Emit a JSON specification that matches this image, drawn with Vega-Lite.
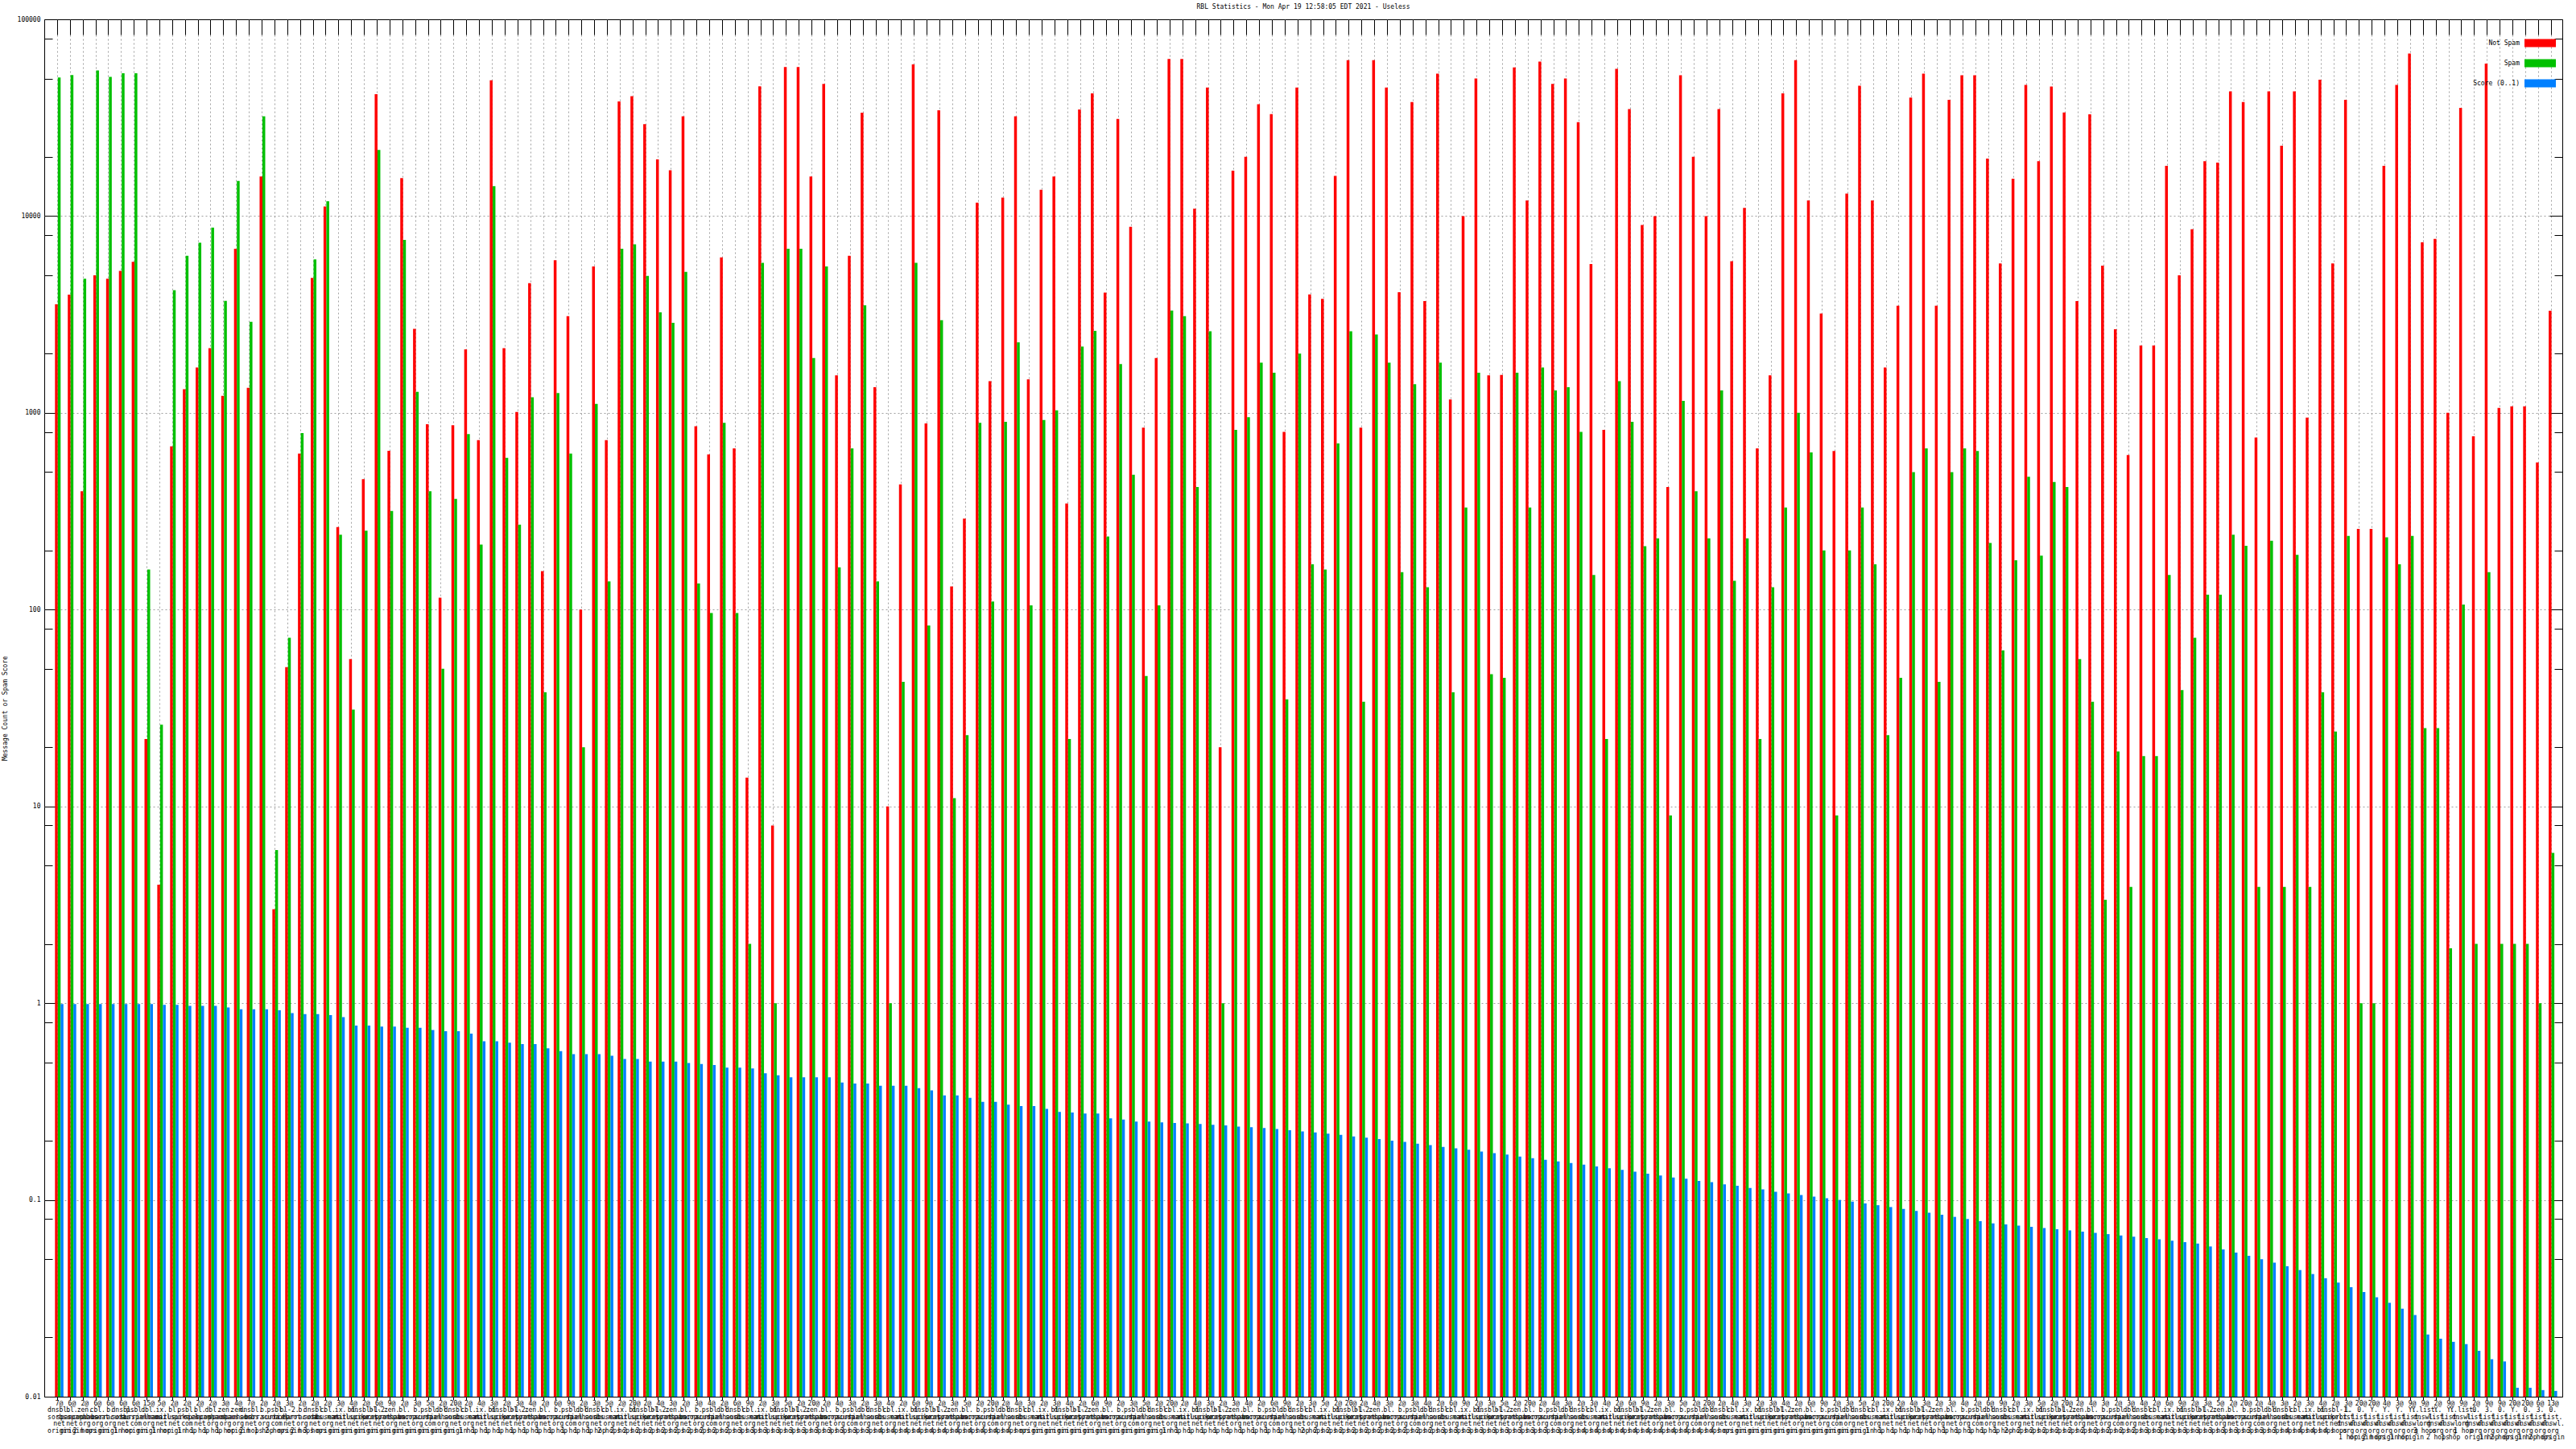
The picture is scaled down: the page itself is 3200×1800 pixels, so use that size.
{
"$schema": "https://vega.github.io/schema/vega-lite/v6.json",
"width": 3128, "height": 1711,
"autosize": "none",
"padding": {"left": 55, "top": 24, "right": 17, "bottom": 65},
"background": "white",
"config": {"view": {"stroke": "black", "strokeWidth": 1}, "font": "DejaVu Sans Mono"},
"title": {"text": "RBL Statistics - Mon Apr 19 12:58:05 EDT 2021 - Useless", "fontSize": 8, "fontWeight": "normal", "font": "DejaVu Sans Mono", "anchor": "middle", "offset": 7, "color": "black"},
"data": {"values": [
{"k":"001|7@|dnsbl.|sorbs.|net|origin","notspam":3565,"spam":50600,"score":0.99},
{"k":"002|6@|bl.|spamcop.|net|origin","notspam":3990,"spam":52100,"score":0.99},
{"k":"003|2@|zen.|spamhaus.|org|2 hops","notspam":400,"spam":4800,"score":0.99},
{"k":"004|6@|cbl.|abuseat.|org|origin","notspam":5000,"spam":55000,"score":0.99},
{"k":"005|6@|b.|barracuda.|org|origin","notspam":4800,"spam":51000,"score":0.99},
{"k":"006|6@|dnsbl.|sorbs.|net|1 hop","notspam":5270,"spam":53200,"score":0.99},
{"k":"007|6@|psbl.|surriel.|com|origin","notspam":5850,"spam":53200,"score":0.99},
{"k":"008|15@|dbl.|spamhaus.|org|origin","notspam":22,"spam":160,"score":0.99},
{"k":"009|5@|ix.|manitu.|net|1 hop","notspam":4,"spam":26,"score":0.98},
{"k":"010|2@|bl.|mailspike.|net|origin","notspam":676,"spam":4200,"score":0.98},
{"k":"011|2@|psbl.|surriel.|com|1 hop","notspam":1320,"spam":6280,"score":0.97},
{"k":"012|2@|bl.|spamcop.|net|1 hop","notspam":1700,"spam":7330,"score":0.97},
{"k":"013|2@|dbl.|spamhaus.|org|1 hop","notspam":2130,"spam":8740,"score":0.97},
{"k":"014|3@|zen.|spamhaus.|org|1 hop","notspam":1220,"spam":3710,"score":0.95},
{"k":"015|4@|zen.|spamhaus.|org|origin","notspam":6820,"spam":15100,"score":0.93},
{"k":"016|7@|dnsbl.|sorbs.|net|2 hops","notspam":1340,"spam":2900,"score":0.93},
{"k":"017|2@|b.|barracuda.|org|1 hop","notspam":15900,"spam":32100,"score":0.93},
{"k":"018|2@|psbl.|surriel.|com|2 hops","notspam":3,"spam":6,"score":0.92},
{"k":"019|3@|bl-2.|uceprot.|net|origin","notspam":51,"spam":72,"score":0.89},
{"k":"020|2@|b.|barracuda.|org|2 hops","notspam":620,"spam":790,"score":0.88},
{"k":"021|2@|dnsbl.|sorbs.|net|3 hops","notspam":4850,"spam":6030,"score":0.88},
{"k":"022|2@|cbl.|abuseat.|org|origin","notspam":11200,"spam":11900,"score":0.87},
{"k":"023|3@|ix.|manitu.|net|origin","notspam":263,"spam":240,"score":0.85},
{"k":"024|4@|bl.|mailspike.|net|origin","notspam":56,"spam":31,"score":0.77},
{"k":"025|2@|dnsbl-1.|uceprot.|net|origin","notspam":460,"spam":252,"score":0.77},
{"k":"026|6@|bl-2.|uceprot.|net|origin","notspam":41600,"spam":21700,"score":0.76},
{"k":"027|9@|zen.|spamhaus.|org|origin","notspam":641,"spam":317,"score":0.76},
{"k":"028|2@|bl.|spamcop.|net|origin","notspam":15600,"spam":7570,"score":0.75},
{"k":"029|3@|b.|barracuda.|org|origin","notspam":2670,"spam":1280,"score":0.75},
{"k":"030|5@|psbl.|surriel.|com|origin","notspam":875,"spam":400,"score":0.73},
{"k":"031|2@|dbl.|spamhaus.|org|origin","notspam":115,"spam":50,"score":0.72},
{"k":"032|20@|dnsbl.|sorbs.|net|origin","notspam":865,"spam":365,"score":0.72},
{"k":"033|2@|cbl.|abuseat.|org|1 hop","notspam":2100,"spam":780,"score":0.70},
{"k":"034|4@|ix.|manitu.|net|1 hop","notspam":727,"spam":214,"score":0.64},
{"k":"035|3@|bl.|mailspike.|net|1 hop","notspam":49000,"spam":14200,"score":0.64},
{"k":"036|2@|dnsbl-1.|uceprot.|net|1 hop","notspam":2130,"spam":590,"score":0.63},
{"k":"037|3@|bl-2.|uceprot.|net|1 hop","notspam":1010,"spam":270,"score":0.62},
{"k":"038|4@|zen.|spamhaus.|org|1 hop","notspam":4560,"spam":1200,"score":0.62},
{"k":"039|2@|bl.|spamcop.|net|1 hop","notspam":157,"spam":38,"score":0.59},
{"k":"040|6@|b.|barracuda.|org|1 hop","notspam":5970,"spam":1260,"score":0.57},
{"k":"041|9@|psbl.|surriel.|com|1 hop","notspam":3100,"spam":620,"score":0.55},
{"k":"042|2@|dbl.|spamhaus.|org|1 hop","notspam":100,"spam":20,"score":0.55},
{"k":"043|3@|dnsbl.|sorbs.|net|1 hop","notspam":5540,"spam":1110,"score":0.55},
{"k":"044|5@|cbl.|abuseat.|org|2 hops","notspam":727,"spam":139,"score":0.54},
{"k":"045|2@|ix.|manitu.|net|2 hops","notspam":38300,"spam":6830,"score":0.52},
{"k":"046|20@|bl.|mailspike.|net|2 hops","notspam":40700,"spam":7180,"score":0.52},
{"k":"047|2@|dnsbl-1.|uceprot.|net|2 hops","notspam":29300,"spam":4960,"score":0.505},
{"k":"048|4@|bl-2.|uceprot.|net|2 hops","notspam":19400,"spam":3240,"score":0.505},
{"k":"049|3@|zen.|spamhaus.|org|2 hops","notspam":17100,"spam":2870,"score":0.505},
{"k":"050|2@|bl.|spamcop.|net|2 hops","notspam":32100,"spam":5210,"score":0.496},
{"k":"051|3@|b.|barracuda.|org|2 hops","notspam":854,"spam":136,"score":0.49},
{"k":"052|4@|psbl.|surriel.|com|2 hops","notspam":615,"spam":96,"score":0.485},
{"k":"053|2@|dbl.|spamhaus.|org|2 hops","notspam":6160,"spam":890,"score":0.47},
{"k":"054|6@|dnsbl.|sorbs.|net|2 hops","notspam":660,"spam":96,"score":0.47},
{"k":"055|9@|cbl.|abuseat.|org|3 hops","notspam":14,"spam":2,"score":0.466},
{"k":"056|2@|ix.|manitu.|net|3 hops","notspam":45700,"spam":5780,"score":0.44},
{"k":"057|3@|bl.|mailspike.|net|3 hops","notspam":8,"spam":1,"score":0.43},
{"k":"058|5@|dnsbl-1.|uceprot.|net|3 hops","notspam":57200,"spam":6820,"score":0.42},
{"k":"059|2@|bl-2.|uceprot.|net|3 hops","notspam":57200,"spam":6820,"score":0.42},
{"k":"060|20@|zen.|spamhaus.|org|3 hops","notspam":15900,"spam":1900,"score":0.42},
{"k":"061|2@|bl.|spamcop.|net|3 hops","notspam":47000,"spam":5540,"score":0.42},
{"k":"062|4@|b.|barracuda.|org|3 hops","notspam":1550,"spam":164,"score":0.395},
{"k":"063|3@|psbl.|surriel.|com|3 hops","notspam":6280,"spam":660,"score":0.39},
{"k":"064|2@|dbl.|spamhaus.|org|3 hops","notspam":33500,"spam":3520,"score":0.39},
{"k":"065|3@|dnsbl.|sorbs.|net|3 hops","notspam":1350,"spam":139,"score":0.38},
{"k":"066|4@|cbl.|abuseat.|org|4 hops","notspam":10,"spam":1,"score":0.38},
{"k":"067|2@|ix.|manitu.|net|4 hops","notspam":433,"spam":43,"score":0.38},
{"k":"068|6@|bl.|mailspike.|net|4 hops","notspam":59000,"spam":5780,"score":0.37},
{"k":"069|9@|dnsbl-1.|uceprot.|net|4 hops","notspam":883,"spam":83,"score":0.36},
{"k":"070|2@|bl-2.|uceprot.|net|4 hops","notspam":34500,"spam":2960,"score":0.34},
{"k":"071|3@|zen.|spamhaus.|org|4 hops","notspam":131,"spam":11,"score":0.34},
{"k":"072|5@|bl.|spamcop.|net|4 hops","notspam":290,"spam":23,"score":0.33},
{"k":"073|2@|b.|barracuda.|org|4 hops","notspam":11700,"spam":890,"score":0.315},
{"k":"074|20@|psbl.|surriel.|com|4 hops","notspam":1450,"spam":110,"score":0.315},
{"k":"075|2@|dbl.|spamhaus.|org|4 hops","notspam":12400,"spam":900,"score":0.305},
{"k":"076|4@|dnsbl.|sorbs.|net|4 hops","notspam":32100,"spam":2280,"score":0.30},
{"k":"077|3@|cbl.|abuseat.|org|origin","notspam":1480,"spam":105,"score":0.30},
{"k":"078|2@|ix.|manitu.|net|origin","notspam":13600,"spam":920,"score":0.29},
{"k":"079|3@|bl.|mailspike.|net|origin","notspam":15900,"spam":1030,"score":0.28},
{"k":"080|4@|dnsbl-1.|uceprot.|net|origin","notspam":346,"spam":22,"score":0.278},
{"k":"081|2@|bl-2.|uceprot.|net|origin","notspam":34800,"spam":2170,"score":0.275},
{"k":"082|6@|zen.|spamhaus.|org|origin","notspam":42000,"spam":2610,"score":0.275},
{"k":"083|9@|bl.|spamcop.|net|origin","notspam":4080,"spam":235,"score":0.26},
{"k":"084|2@|b.|barracuda.|org|origin","notspam":31200,"spam":1770,"score":0.256},
{"k":"085|3@|psbl.|surriel.|com|origin","notspam":8830,"spam":485,"score":0.25},
{"k":"086|5@|dbl.|spamhaus.|org|origin","notspam":840,"spam":46,"score":0.25},
{"k":"087|2@|dnsbl.|sorbs.|net|origin","notspam":1900,"spam":105,"score":0.248},
{"k":"088|20@|cbl.|abuseat.|org|1 hop","notspam":62900,"spam":3310,"score":0.246},
{"k":"089|2@|ix.|manitu.|net|1 hop","notspam":62900,"spam":3100,"score":0.245},
{"k":"090|4@|bl.|mailspike.|net|1 hop","notspam":10900,"spam":420,"score":0.243},
{"k":"091|3@|dnsbl-1.|uceprot.|net|1 hop","notspam":45000,"spam":2600,"score":0.241},
{"k":"092|2@|bl-2.|uceprot.|net|1 hop","notspam":20,"spam":1,"score":0.239},
{"k":"093|3@|zen.|spamhaus.|org|1 hop","notspam":17000,"spam":820,"score":0.236},
{"k":"094|4@|bl.|spamcop.|net|1 hop","notspam":20000,"spam":950,"score":0.234},
{"k":"095|2@|b.|barracuda.|org|1 hop","notspam":37000,"spam":1800,"score":0.232},
{"k":"096|6@|psbl.|surriel.|com|1 hop","notspam":33000,"spam":1600,"score":0.229},
{"k":"097|9@|dbl.|spamhaus.|org|1 hop","notspam":800,"spam":35,"score":0.226},
{"k":"098|2@|dnsbl.|sorbs.|net|1 hop","notspam":45000,"spam":2000,"score":0.223},
{"k":"099|3@|cbl.|abuseat.|org|2 hops","notspam":4000,"spam":170,"score":0.22},
{"k":"100|5@|ix.|manitu.|net|2 hops","notspam":3800,"spam":160,"score":0.217},
{"k":"101|2@|bl.|mailspike.|net|2 hops","notspam":16000,"spam":700,"score":0.214},
{"k":"102|20@|dnsbl-1.|uceprot.|net|2 hops","notspam":62000,"spam":2600,"score":0.21},
{"k":"103|2@|bl-2.|uceprot.|net|2 hops","notspam":840,"spam":34,"score":0.207},
{"k":"104|4@|zen.|spamhaus.|org|2 hops","notspam":62000,"spam":2500,"score":0.204},
{"k":"105|3@|bl.|spamcop.|net|2 hops","notspam":45000,"spam":1800,"score":0.2},
{"k":"106|2@|b.|barracuda.|org|2 hops","notspam":4100,"spam":155,"score":0.197},
{"k":"107|3@|psbl.|surriel.|com|2 hops","notspam":38000,"spam":1400,"score":0.193},
{"k":"108|4@|dbl.|spamhaus.|org|2 hops","notspam":3700,"spam":130,"score":0.19},
{"k":"109|2@|dnsbl.|sorbs.|net|2 hops","notspam":53000,"spam":1800,"score":0.186},
{"k":"110|6@|cbl.|abuseat.|org|3 hops","notspam":1170,"spam":38,"score":0.183},
{"k":"111|9@|ix.|manitu.|net|3 hops","notspam":10000,"spam":330,"score":0.18},
{"k":"112|2@|bl.|mailspike.|net|3 hops","notspam":50000,"spam":1600,"score":0.176},
{"k":"113|3@|dnsbl-1.|uceprot.|net|3 hops","notspam":1550,"spam":47,"score":0.173},
{"k":"114|5@|bl-2.|uceprot.|net|3 hops","notspam":1560,"spam":45,"score":0.17},
{"k":"115|2@|zen.|spamhaus.|org|3 hops","notspam":57000,"spam":1600,"score":0.166},
{"k":"116|20@|bl.|spamcop.|net|3 hops","notspam":12000,"spam":330,"score":0.163},
{"k":"117|2@|b.|barracuda.|org|3 hops","notspam":61000,"spam":1700,"score":0.16},
{"k":"118|4@|psbl.|surriel.|com|3 hops","notspam":47000,"spam":1300,"score":0.157},
{"k":"119|3@|dbl.|spamhaus.|org|3 hops","notspam":50000,"spam":1350,"score":0.154},
{"k":"120|2@|dnsbl.|sorbs.|net|3 hops","notspam":30000,"spam":800,"score":0.151},
{"k":"121|3@|cbl.|abuseat.|org|4 hops","notspam":5700,"spam":150,"score":0.148},
{"k":"122|4@|ix.|manitu.|net|4 hops","notspam":820,"spam":22,"score":0.145},
{"k":"123|2@|bl.|mailspike.|net|4 hops","notspam":56000,"spam":1450,"score":0.142},
{"k":"124|6@|dnsbl-1.|uceprot.|net|4 hops","notspam":35000,"spam":900,"score":0.139},
{"k":"125|9@|bl-2.|uceprot.|net|4 hops","notspam":9000,"spam":210,"score":0.136},
{"k":"126|2@|zen.|spamhaus.|org|4 hops","notspam":10000,"spam":230,"score":0.133},
{"k":"127|3@|bl.|spamcop.|net|4 hops","notspam":420,"spam":9,"score":0.13},
{"k":"128|5@|b.|barracuda.|org|4 hops","notspam":52000,"spam":1150,"score":0.128},
{"k":"129|2@|psbl.|surriel.|com|4 hops","notspam":20000,"spam":400,"score":0.125},
{"k":"130|20@|dbl.|spamhaus.|org|4 hops","notspam":10000,"spam":230,"score":0.123},
{"k":"131|2@|dnsbl.|sorbs.|net|4 hops","notspam":35000,"spam":1300,"score":0.12},
{"k":"132|4@|cbl.|abuseat.|org|origin","notspam":5900,"spam":140,"score":0.118},
{"k":"133|3@|ix.|manitu.|net|origin","notspam":11000,"spam":230,"score":0.115},
{"k":"134|2@|bl.|mailspike.|net|origin","notspam":660,"spam":22,"score":0.113},
{"k":"135|3@|dnsbl-1.|uceprot.|net|origin","notspam":1550,"spam":130,"score":0.11},
{"k":"136|4@|bl-2.|uceprot.|net|origin","notspam":42000,"spam":330,"score":0.108},
{"k":"137|2@|zen.|spamhaus.|org|origin","notspam":62000,"spam":1000,"score":0.106},
{"k":"138|6@|bl.|spamcop.|net|origin","notspam":12000,"spam":630,"score":0.104},
{"k":"139|9@|b.|barracuda.|org|origin","notspam":3200,"spam":200,"score":0.102},
{"k":"140|2@|psbl.|surriel.|com|origin","notspam":640,"spam":9,"score":0.1},
{"k":"141|3@|dbl.|spamhaus.|org|origin","notspam":13000,"spam":200,"score":0.098},
{"k":"142|5@|dnsbl.|sorbs.|net|origin","notspam":46000,"spam":330,"score":0.096},
{"k":"143|2@|cbl.|abuseat.|org|1 hop","notspam":12000,"spam":170,"score":0.094},
{"k":"144|20@|ix.|manitu.|net|1 hop","notspam":1700,"spam":23,"score":0.092},
{"k":"145|2@|bl.|mailspike.|net|1 hop","notspam":3500,"spam":45,"score":0.09},
{"k":"146|4@|dnsbl-1.|uceprot.|net|1 hop","notspam":40000,"spam":500,"score":0.088},
{"k":"147|3@|bl-2.|uceprot.|net|1 hop","notspam":53000,"spam":660,"score":0.086},
{"k":"148|2@|zen.|spamhaus.|org|1 hop","notspam":3500,"spam":43,"score":0.084},
{"k":"149|3@|bl.|spamcop.|net|1 hop","notspam":39000,"spam":500,"score":0.082},
{"k":"150|4@|b.|barracuda.|org|1 hop","notspam":52000,"spam":660,"score":0.08},
{"k":"151|2@|psbl.|surriel.|com|1 hop","notspam":52000,"spam":640,"score":0.078},
{"k":"152|6@|dbl.|spamhaus.|org|1 hop","notspam":19600,"spam":218,"score":0.076},
{"k":"153|9@|dnsbl.|sorbs.|net|1 hop","notspam":5740,"spam":62,"score":0.075},
{"k":"154|2@|cbl.|abuseat.|org|2 hops","notspam":15500,"spam":178,"score":0.074},
{"k":"155|3@|ix.|manitu.|net|2 hops","notspam":46400,"spam":473,"score":0.073},
{"k":"156|5@|bl.|mailspike.|net|2 hops","notspam":19000,"spam":188,"score":0.072},
{"k":"157|2@|dnsbl-1.|uceprot.|net|2 hops","notspam":45500,"spam":445,"score":0.071},
{"k":"158|20@|bl-2.|uceprot.|net|2 hops","notspam":33600,"spam":420,"score":0.07},
{"k":"159|2@|zen.|spamhaus.|org|2 hops","notspam":3700,"spam":56,"score":0.069},
{"k":"160|4@|bl.|spamcop.|net|2 hops","notspam":32900,"spam":34,"score":0.068},
{"k":"161|3@|b.|barracuda.|org|2 hops","notspam":5600,"spam":3.35,"score":0.067},
{"k":"162|2@|psbl.|surriel.|com|2 hops","notspam":2660,"spam":19,"score":0.066},
{"k":"163|3@|dbl.|spamhaus.|org|2 hops","notspam":610,"spam":3.9,"score":0.065},
{"k":"164|4@|dnsbl.|sorbs.|net|2 hops","notspam":2200,"spam":18,"score":0.064},
{"k":"165|2@|cbl.|abuseat.|org|3 hops","notspam":2200,"spam":18,"score":0.063},
{"k":"166|6@|ix.|manitu.|net|3 hops","notspam":18000,"spam":150,"score":0.062},
{"k":"167|9@|bl.|mailspike.|net|3 hops","notspam":5000,"spam":39,"score":0.061},
{"k":"168|2@|dnsbl-1.|uceprot.|net|3 hops","notspam":8570,"spam":72,"score":0.06},
{"k":"169|3@|bl-2.|uceprot.|net|3 hops","notspam":19000,"spam":119,"score":0.058},
{"k":"170|5@|zen.|spamhaus.|org|3 hops","notspam":18700,"spam":119,"score":0.056},
{"k":"171|2@|bl.|spamcop.|net|3 hops","notspam":43000,"spam":240,"score":0.054},
{"k":"172|20@|b.|barracuda.|org|3 hops","notspam":38000,"spam":211,"score":0.052},
{"k":"173|2@|psbl.|surriel.|com|3 hops","notspam":750,"spam":3.9,"score":0.05},
{"k":"174|4@|dbl.|spamhaus.|org|3 hops","notspam":43000,"spam":224,"score":0.048},
{"k":"175|3@|dnsbl.|sorbs.|net|3 hops","notspam":22800,"spam":3.9,"score":0.046},
{"k":"176|2@|cbl.|abuseat.|org|4 hops","notspam":43000,"spam":190,"score":0.044},
{"k":"177|3@|ix.|manitu.|net|4 hops","notspam":945,"spam":3.9,"score":0.042},
{"k":"178|4@|bl.|mailspike.|net|4 hops","notspam":49300,"spam":38,"score":0.04},
{"k":"179|2@|dnsbl-1.|uceprot.|net|4 hops","notspam":5740,"spam":24,"score":0.038},
{"k":"180|3@|1.|list.|dnswl.|org|1 hop","notspam":39000,"spam":237,"score":0.036},
{"k":"181|20@|0.|list.|dnswl.|org|origin","notspam":257,"spam":1,"score":0.034},
{"k":"182|20@|Y.|list.|dnswl.|org|2 hops","notspam":257,"spam":1,"score":0.032},
{"k":"183|4@|Y.|list.|dnswl.|org|origin","notspam":18000,"spam":233,"score":0.03},
{"k":"184|3@|Y.|list.|dnswl.|org|1 hop","notspam":46400,"spam":170,"score":0.028},
{"k":"185|9@|Y.|list.|dnswl.|org|origin","notspam":67000,"spam":237,"score":0.026},
{"k":"186|9@|Y.list.|dnswl.|org|3 hops","notspam":7350,"spam":25,"score":0.0207},
{"k":"187|2@|Y.|list.|dnswl.|org|2 hops","notspam":7650,"spam":25,"score":0.0197},
{"k":"188|9@|Y.|list.|dnswl.|org|1 hop","notspam":1000,"spam":1.9,"score":0.019},
{"k":"189|9@|Y.list.|dnswl.|org|1 hop","notspam":35500,"spam":106,"score":0.0185},
{"k":"190|2@|0.|list.|dnswl.|org|origin","notspam":760,"spam":2,"score":0.0171},
{"k":"191|9@|3.|list.|dnswl.|org|1 hop","notspam":59600,"spam":155,"score":0.0155},
{"k":"192|9@|0.|list.|dnswl.|org|2 hops","notspam":1060,"spam":2,"score":0.0151},
{"k":"193|20@|Y.|list.|dnswl.|org|origin","notspam":1080,"spam":2,"score":0.0111},
{"k":"194|20@|0.|list.|dnswl.|org|1 hop","notspam":1080,"spam":2,"score":0.0111},
{"k":"195|6@|3.|list.|dnswl.|org|2 hops","notspam":560,"spam":1,"score":0.0108},
{"k":"196|13@|0.|list.|dnswl.|org|origin","notspam":3300,"spam":5.8,"score":0.0107}
]},
"transform": [{"fold": ["notspam", "spam", "score"], "as": ["series", "value"]}],
"layer": [
{
"mark": {"type": "bar"},
"encoding": {
"x": {"field": "k", "type": "nominal", "sort": null,
"scale": {"paddingInner": 0.339, "paddingOuter": 0.62, "align": 0.675},
"axis": {"orient": "bottom", "title": null, "labelAngle": 0, "labelAlign": "center", "labelBaseline": "top", "labelFont": "DejaVu Sans Mono", "labelFontSize": 8, "labelLineHeight": 8.5, "labelColor": "black", "labelPadding": 0, "labelExpr": "slice(split(datum.value, '|'), 1)", "labelOverlap": false, "labelLimit": 0, "labelFlush": false, "ticks": true, "tickSize": 4, "tickColor": "black", "bandPosition": 0.29, "domain": false, "grid": false, "zindex": 1}},
"xOffset": {"field": "series", "type": "nominal", "sort": ["notspam", "spam", "score"], "scale": {"paddingInner": 0, "paddingOuter": 0}},
"y": {"field": "value", "type": "quantitative",
"scale": {"type": "log", "domain": [0.01, 100000], "nice": false, "zero": false},
"axis": {"orient": "left", "title": "Message Count or Spam Score", "titleFont": "DejaVu Sans Mono", "titleFontSize": 8, "titleFontWeight": "normal", "titleColor": "black", "titleX": -49, "titleY": 855.5, "titleAlign": "center", "titleBaseline": "middle", "titleAngle": 270,
"values": [0.01,0.02,0.05,0.08,0.1,0.2,0.5,0.8,1,2,5,8,10,20,50,80,100,200,500,800,1000,2000,5000,8000,10000,20000,50000,80000,100000],
"labelExpr": "indexof([0.01,0.1,1,10,100,1000,10000,100000], datum.value) >= 0 ? toString(datum.value) : ''",
"labelFont": "DejaVu Sans Mono", "labelFontSize": 8, "labelColor": "black", "labelPadding": 21, "labelOverlap": false, "labelFlush": false,
"tickSize": {"condition": {"test": "indexof([0.01,0.1,1,10,100,1000,10000,100000], datum.value) >= 0", "value": -16}, "value": -10},
"tickColor": "black", "domain": false, "grid": true, "gridColor": "#a0a0a0", "gridDash": [2, 3],
"gridOpacity": {"condition": {"test": "indexof([0.1,1,10,100,1000,10000], datum.value) >= 0", "value": 1}, "value": 0}}},
"y2": {"datum": 0.01},
"color": {"field": "series", "type": "nominal",
"scale": {"domain": ["notspam", "spam", "score"], "range": ["#ff0000", "#00c000", "#0080ff"]},
"legend": {"orient": "none", "legendX": 3081, "legendY": 10, "title": null, "direction": "vertical", "padding": 0,
"symbolType": "M-1,-0.256H1V0.256H-1Z", "symbolSize": 1521, "symbolStrokeWidth": 0, "symbolOpacity": 1,
"labelAlign": "right", "labelOffset": -45, "labelFont": "DejaVu Sans Mono", "labelFontSize": 8, "labelColor": "black", "labelLimit": 0, "rowPadding": -3,
"labelExpr": "datum.label == 'notspam' ? 'Not Spam' : datum.label == 'spam' ? 'Spam' : 'Score (0..1)'"}}
}
},
{
"mark": {"type": "bar", "opacity": 0},
"encoding": {
"x": {"field": "k", "type": "nominal", "sort": null,
"axis": {"orient": "top", "title": null, "labels": false, "ticks": true, "tickSize": -19, "tickColor": "black", "bandPosition": 0.29, "domain": false, "grid": true, "gridColor": "#a0a0a0", "gridDash": [2, 3], "zindex": 0}},
"y": {"field": "value", "type": "quantitative",
"axis": {"orient": "right", "title": null, "labels": false,
"values": [0.01,0.02,0.05,0.08,0.1,0.2,0.5,0.8,1,2,5,8,10,20,50,80,100,200,500,800,1000,2000,5000,8000,10000,20000,50000,80000,100000],
"tickSize": {"condition": {"test": "indexof([0.01,0.1,1,10,100,1000,10000,100000], datum.value) >= 0", "value": -16}, "value": -10},
"tickColor": "black", "domain": false, "grid": false}},
"y2": {"datum": 0.01}
}
}
],
"resolve": {"axis": {"x": "independent", "y": "independent"}}
}
